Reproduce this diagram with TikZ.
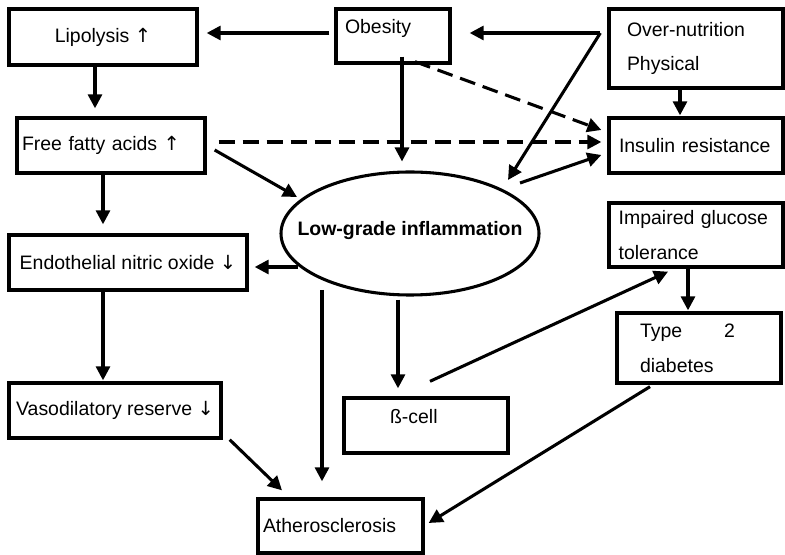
\documentclass[tikz,border=0pt]{standalone}
\usepackage{fontspec}
\setmainfont{Liberation Sans}
\newfontfamily\arrowfont{DejaVu Sans}
\usetikzlibrary{arrows.meta}
\usetikzlibrary{shapes.geometric}
\usetikzlibrary{calc}

\newcommand\uparr{{\arrowfont\fontsize{14.6}{26}\selectfont ↑}}
\newcommand\dnarr{{\arrowfont\fontsize{14.6}{26}\selectfont ↓}}

\tikzset{
  box/.style={draw, line width=2.5pt, rectangle, inner sep=0pt, align=center, font=\fontsize{14.6}{26}\selectfont},
  lbox/.style 2 args={box, align=left, inner xsep=#1, text width=#2},
  arr/.style={line width=2.3pt, -{Triangle[length=10.5pt,width=10.5pt]}},
  darr/.style={arr, dash pattern=on 12pt off 6pt},
}

\begin{document}
\begin{tikzpicture}[x=0.75pt,y=0.75pt,yscale=-1,xscale=1]
\useasboundingbox (0,0) rectangle (785,555);

% Boxes
\node[box, minimum width=141pt, minimum height=42pt] (lipo) at (103,37) {Lipolysis \uparr};
\node[lbox={6.75pt}{72pt}, minimum height=40.5pt, text height=18.75pt, text depth=21.75pt] (obes) at (393,36) {Obesity};
\node[lbox={13.5pt}{103.5pt}, minimum height=59.25pt] (over) at (696,48.5) {Over-nutrition\\Physical};
\node[lbox={3.75pt}{133.5pt}, minimum height=41.25pt] (ffa) at (111,145.5) {Free fatty acids \uparr};
\node[lbox={7.5pt}{115.5pt}, minimum height=41.25pt] (insul) at (696,145.5) {Insulin resistance};
\node[ellipse, draw, line width=2.3pt, minimum width=193.5pt, minimum height=92.25pt, inner sep=0pt, text height=0pt, text depth=0pt, font=\bfseries\fontsize{14.6}{26}\selectfont] (infl) at (410,233.5) {\makebox[0pt]{\raisebox{-1.5pt}{Low-grade inflammation}}};
\node[box, minimum width=178.5pt, minimum height=41.25pt] (endo) at (128,262.5) {Endothelial nitric oxide \dnarr};
\node[lbox={7.25pt}{116pt}, minimum height=48pt] (igt) at (696,235) {Impaired glucose\\tolerance};
\node[lbox={17.25pt}{88.5pt}, minimum height=52.5pt] (t2d) at (699,348) {Type\hspace{2.15em}2\\diabetes};
\node[box, minimum width=159pt, minimum height=41.25pt] (vaso) at (115,410.5) {Vasodilatory reserve \dnarr};
\node[lbox={34.5pt}{54pt}, minimum height=41.25pt, text height=19.5pt, text depth=21.75pt] (bcell) at (426,425.5) {ß-cell};
\node[lbox={3.75pt}{116.25pt}, minimum height=40.5pt] (ather) at (340.5,526) {Atherosclerosis};

\coordinate (src) at ($(over.west)+(-7,-15.5)$);

% Top row
\draw[arr] ($(obes.west)+(-5,-3)$) -- ($(lipo.east)+(8,-4)$);
\draw[arr] (src) -- ($(obes.east)+(18,-3)$);
\draw[arr] (src) -- ($(infl.center)+(98,-53.5)$);
\draw[arr] ($(over.south)+(-16,0)$) -- ($(insul.north)+(-16,-1)$);
\draw[arr] ($(obes.south)+(9,-8)$) -- ($(infl.north)+(-8,-9)$);
\draw[darr] ($(obes.south)+(22,-3)$) -- ($(insul.west)+(-6,-15.5)$);
\draw[darr] ($(ffa.east)+(12,-3.5)$) -- ($(insul.west)+(-6,-3.5)$);
\draw[arr] ($(infl.center)+(110,-50.5)$) -- ($(insul.west)+(-6,9.5)$);

% Left column
\draw[arr] ($(lipo.south)+(-8,0)$) -- ($(ffa.north)+(-16,-8)$);
\draw[arr] ($(ffa.east)+(8,4.5)$) -- ($(infl.center)+(-113,-36.5)$);
\draw[arr] ($(ffa.south)+(-8,0)$) -- ($(endo.north)+(-25,-9)$);
\draw[arr] ($(infl.center)+(-112,33.5)$) -- ($(endo.east)+(6,4.5)$);
\draw[arr] ($(endo.south)+(-25,0)$) -- ($(vaso.north)+(-12,-1)$);
\draw[arr] ($(vaso.south east)+(7,0)$) -- ($(ather.north)+(-58.5,-7)$);

% Middle and right
\draw[arr] ($(infl.center)+(-88,56.5)$) -- ($(ather.north)+(-18.5,-16)$);
\draw[arr] ($(infl.south)+(-12,3)$) -- ($(bcell.north)+(-28,-8)$);
\draw[arr] ($(bcell.north)+(4,-15)$) -- ($(igt.south)+(-28,3)$);
\draw[arr] ($(igt.south)+(-8,0)$) -- ($(t2d.north)+(-11,-1)$);
\draw[arr] ($(t2d.south)+(-49,2)$) -- ($(ather.east)+(4,-3)$);

\end{tikzpicture}
\end{document}
